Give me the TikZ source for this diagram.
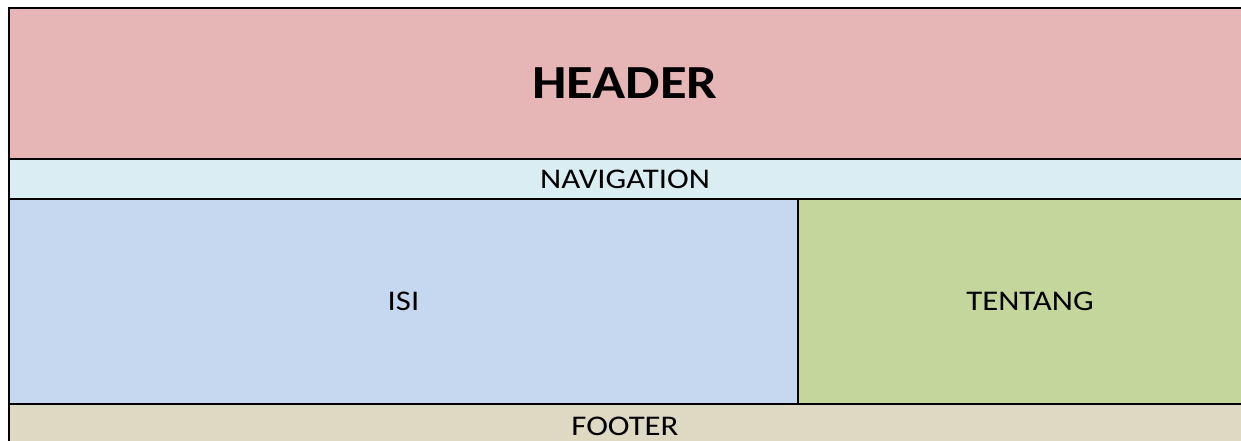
\documentclass[tikz,border=0pt]{standalone}
\usepackage{fontspec}
\setmainfont{Carlito}
\definecolor{headerred}{HTML}{E6B5B6}
\definecolor{navblue}{HTML}{DAEDF3}
\definecolor{isiblue}{HTML}{C6D8F0}
\definecolor{tentanggreen}{HTML}{C4D69C}
\definecolor{footerbeige}{HTML}{DDD9C3}
\newcommand{\widetext}[1]{\scalebox{1.15}[1]{#1}}
\tikzset{
	region/.style={inner sep=0pt, outer sep=0pt, anchor=north west, font=\fontsize{28.5}{30}\selectfont},
	rule/.style={line width=2pt, black}
}
\begin{document}
\begin{tikzpicture}[x=1pt,y=-1pt]
		\clip (0,0) rectangle (1241,441);
		\node[region, fill=headerred, minimum width=1232pt, minimum height=151pt, font=\fontsize{47.5}{50}\selectfont\bfseries] (header) at (9,8) {\widetext{HEADER}};
		\node[region, fill=navblue, minimum width=1232pt, minimum height=40pt] (nav) at (9,159) {\widetext{NAVIGATION}};
		\node[region, fill=isiblue, minimum width=789pt, minimum height=205pt] (isi) at (9,199) {\widetext{ISI}};
		\node[region, fill=tentanggreen, minimum width=464pt, minimum height=205pt] (tentang) at (798,199) {\widetext{TENTANG}};
		\node[region, fill=footerbeige, minimum width=1232pt, minimum height=44pt] (footer) at (9,404) {\widetext{FOOTER}};
		
		\draw[rule] (header.north east) -- (header.north west) -- (footer.south west);
		\draw[rule] (header.south west) -- (header.south east);
		\draw[rule] (nav.south west) -- (nav.south east);
		\draw[rule] (isi.north east) -- (isi.south east);
		\draw[rule] (footer.north west) -- (footer.north east);
\end{tikzpicture}
\end{document}
